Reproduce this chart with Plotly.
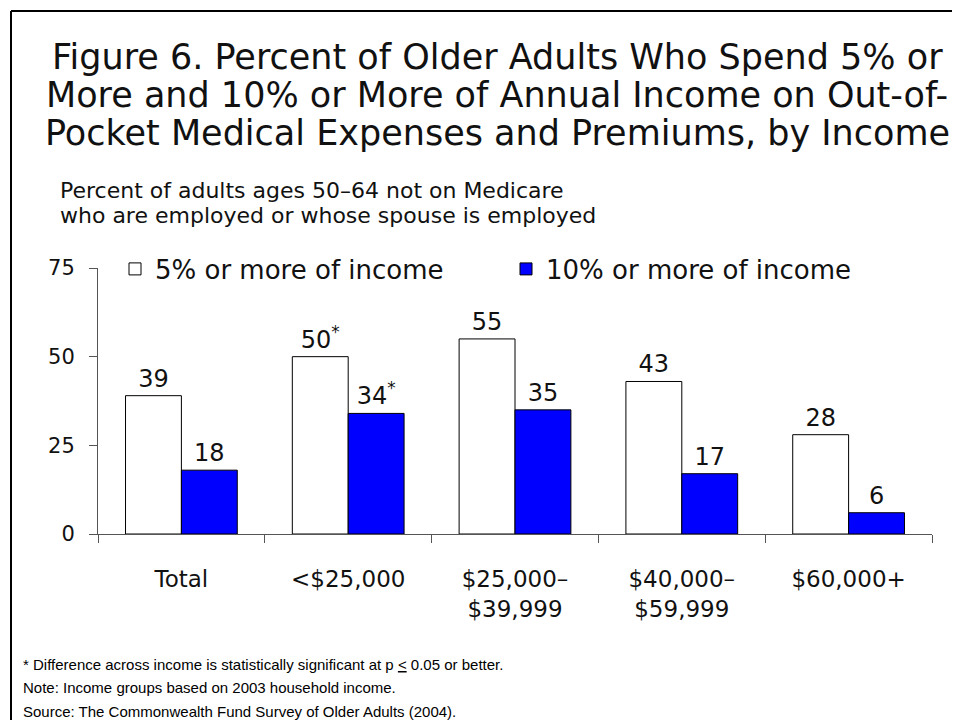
import plotly.graph_objects as go

categories = ["Total", "<$25,000", "$25,000–<br>$39,999", "$40,000–<br>$59,999", "$60,000+"]
pct_5 = [39, 50, 55, 43, 28]
pct_10 = [18, 34, 35, 17, 6]
sig_5 = ["", "*", "", "", ""]
sig_10 = ["", "*", "", "", ""]
yticks = [0, 25, 50, 75]

title_lines = ["Figure 6. Percent of Older Adults Who Spend 5% or",
               "More and 10% or More of Annual Income on Out-of-",
               "Pocket Medical Expenses and Premiums, by Income"]
subtitle_lines = ["Percent of adults ages 50–64 not on Medicare",
                  "who are employed or whose spouse is employed"]
notes = ["* Difference across income is statistically significant at p <u><</u> 0.05 or better.",
         "Note: Income groups based on 2003 household income.",
         "Source: The Commonwealth Fund Survey of Older Adults (2004)."]

# the page body has an 8px margin: figure coordinates = page coordinates - 8
OFF = 8
W, H = 960 - 2 * OFF, 728 - 2 * OFF
L, R, T, B = 98 - OFF, 932 - OFF, 268 - OFF, 534 - OFF

def px2x(px):
    return (px - OFF - L) / (R - L)

def py2y(py):
    return (B - (py - OFF)) / (B - T)

FONT = "DejaVu Sans"
INK = "#111111"

lbl5 = [f"{v}<sup>{s}</sup>" if s else f"{v}" for v, s in zip(pct_5, sig_5)]
lbl10 = [f"{v}<sup>{s}</sup>" if s else f"{v}" for v, s in zip(pct_10, sig_10)]

fig = go.Figure()
fig.add_trace(go.Bar(
    name="5% or more of income", x=categories, y=pct_5,
    marker=dict(color="white", line=dict(color="#000000", width=1)),
    text=lbl5, textposition="outside", constraintext="none", cliponaxis=False,
    textfont=dict(family=FONT, size=24, color=INK),
))
fig.add_trace(go.Bar(
    name="10% or more of income", x=categories, y=pct_10,
    marker=dict(color="#0000FF", line=dict(color="#000000", width=1)),
    text=lbl10, textposition="outside", constraintext="none", cliponaxis=False,
    textfont=dict(family=FONT, size=24, color=INK),
))

annotations = []
for i, line in enumerate(title_lines):
    annotations.append(dict(
        text=line, xref="paper", yref="paper", x=px2x(497), y=py2y(57 + 38 * i),
        xanchor="center", yanchor="middle", showarrow=False,
        font=dict(family=FONT, size=35, color=INK)))
for i, line in enumerate(subtitle_lines):
    annotations.append(dict(
        text=line, xref="paper", yref="paper", x=px2x(58), y=py2y(190 + 26 * i),
        xanchor="left", yanchor="middle", showarrow=False,
        font=dict(family=FONT, size=22, color=INK)))
for i, line in enumerate(notes):
    annotations.append(dict(
        text=line, xref="paper", yref="paper", x=px2x(21), y=py2y(664 + 23.5 * i),
        xanchor="left", yanchor="middle", showarrow=False,
        font=dict(family="Liberation Sans", size=15, color="#000000")))

shapes = [
    dict(type="line", xref="paper", yref="paper", x0=px2x(11), x1=px2x(980),
         y0=py2y(11), y1=py2y(11), line=dict(color="#000000", width=2)),
    dict(type="line", xref="paper", yref="paper", x0=px2x(11), x1=px2x(11),
         y0=py2y(11), y1=py2y(760), line=dict(color="#000000", width=2)),
]

fig.update_layout(
    width=W, height=H,
    margin=dict(l=L, r=W - R, t=T, b=H - B, autoexpand=False),
    paper_bgcolor="white", plot_bgcolor="white",
    barmode="group", bargap=0.33, bargroupgap=0,
    showlegend=True,
    legend=dict(orientation="h", x=px2x(115), y=py2y(269), xanchor="left", yanchor="middle",
                font=dict(family=FONT, size=26, color=INK), entrywidth=346,
                bgcolor="rgba(0,0,0,0)", itemclick=False, itemdoubleclick=False),
    annotations=annotations,
    shapes=shapes,
    font=dict(family=FONT, color=INK),
)
fig.update_xaxes(
    type="category", showline=True, linecolor="#555555", linewidth=1,
    ticks="outside", tickson="boundaries", ticklen=8, tickcolor="#555555",
    tickfont=dict(family=FONT, size=23, color=INK), ticklabelstandoff=24,
    showgrid=False, zeroline=False,
)
fig.update_yaxes(
    range=[0, 75], tickvals=yticks, showline=True, linecolor="#555555", linewidth=1,
    ticks="outside", ticklen=8, tickcolor="#555555",
    tickfont=dict(family=FONT, size=21, color=INK), ticklabelstandoff=10,
    showgrid=False, zeroline=False,
)

fig.write_html("out.html")
